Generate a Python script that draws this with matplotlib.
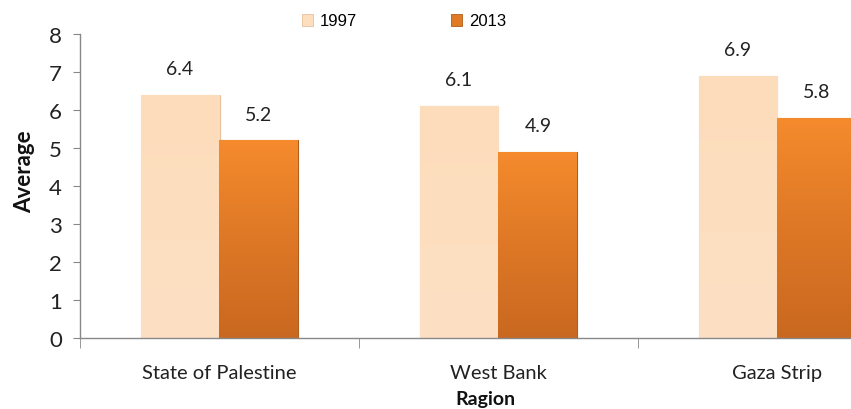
import matplotlib
matplotlib.use("Agg")
import matplotlib.pyplot as plt
import numpy as np
from matplotlib.colors import LinearSegmentedColormap

categories = ["State of Palestine", "West Bank", "Gaza Strip"]
series_names = ["1997", "2013"]
values_1997 = [6.4, 6.1, 6.9]
values_2013 = [5.2, 4.9, 5.8]
y_ticks = [0, 1, 2, 3, 4, 5, 6, 7, 8]

plt.rcParams['font.family'] = ['Lato', 'DejaVu Sans']

W, H = 851, 410
fig = plt.figure(figsize=(W / 100, H / 100), dpi=100)
left_px, right_px = 80, 80 + 3 * 279
bottom_px, top_px = 339, 35
ax = fig.add_axes([left_px / W, (H - bottom_px) / H,
                   (right_px - left_px) / W, (bottom_px - top_px) / H])

x = np.arange(len(categories))
bw = 0.283
c97 = "#FDDFBF"
c13 = "#E07A25"
b1 = ax.bar(x - bw / 2, values_1997, bw, color=c97, edgecolor="#E6C09C",
            linewidth=0.8, label=series_names[0], zorder=2)
b2 = ax.bar(x + bw / 2, values_2013, bw, color=c13, edgecolor="#B05C1A",
            linewidth=0.8, label=series_names[1], zorder=2)

ax.set_xlim(-0.5, 2.5)
ax.set_ylim(0, 8)

# vertical gradient fills clipped to each bar
grad97 = LinearSegmentedColormap.from_list("g97", ["#FCE0C4", "#FDDCBA"])
grad13 = LinearSegmentedColormap.from_list("g13", ["#C96820", "#DE7826", "#F58B2D"])
for bars, cmap in ((b1, grad97), (b2, grad13)):
    for rect in bars:
        x0, y0 = rect.get_x(), rect.get_y()
        w, h = rect.get_width(), rect.get_height()
        im = ax.imshow(np.linspace(0, 1, 256).reshape(-1, 1), cmap=cmap,
                       extent=[x0, x0 + w, y0, y0 + h], origin="lower",
                       aspect="auto", zorder=2.5)
        im.set_clip_path(rect)
ax.set_xlim(-0.5, 2.5)
ax.set_ylim(0, 8)

for bars, vals in ((b1, values_1997), (b2, values_2013)):
    for rect, v in zip(bars, vals):
        ax.annotate(f"{v:.1f}", (rect.get_x() + rect.get_width() / 2, v),
                    xytext=(0, 19), textcoords="offset points",
                    ha="center", va="center", fontsize=14, color="#222222")

ax.set_yticks(y_ticks)
ax.set_yticklabels([str(t) for t in y_ticks], fontsize=16, color="#222222")
ax.set_xticks(x)
ax.set_xticklabels(categories, fontsize=14.5, color="#222222")
ax.tick_params(axis="x", length=0, pad=19)
ax.set_xticks([-0.5, 0.5, 1.5, 2.5], minor=True)
ax.tick_params(axis="x", which="minor", length=7, color="#888888", direction="out")
ax.tick_params(axis="y", length=5, color="#888888", direction="out", pad=8)

for s in ("top", "right"):
    ax.spines[s].set_visible(False)
for s in ("left", "bottom"):
    ax.spines[s].set_color("#888888")
    ax.spines[s].set_linewidth(1.0)

fig.text(25 / W, 1 - 172 / H, "Average", fontsize=16, fontweight="bold",
         ha="center", va="center", rotation=90, color="#111111")
fig.text(485 / W, 2 / H, "Ragion", fontsize=14, fontweight="bold",
         ha="center", va="bottom", color="#111111")

leg = fig.legend(handles=[b1, b2], labels=series_names, loc="center",
                 bbox_to_anchor=(404 / W, 1 - 22 / H), ncol=2, frameon=False,
                 handlelength=0.7, handleheight=0.7,
                 handletextpad=0.4, columnspacing=5.6,
                 prop={'family': ['Liberation Sans Narrow', 'Liberation Sans', 'DejaVu Sans'], 'size': 12})
for h in leg.legend_handles:
    h.set_linewidth(0.6)

fig.savefig("out.png", dpi=100)
